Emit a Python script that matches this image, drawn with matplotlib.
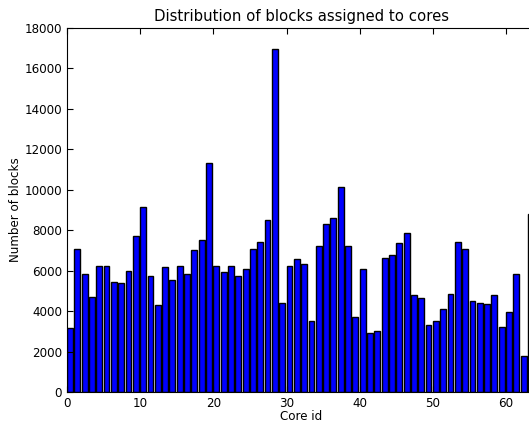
import matplotlib
matplotlib.use("Agg")
import matplotlib.pyplot as plt
import numpy as np

# blocks assigned to each core id
core_ids = np.arange(64)
blocks = [3180, 7056, 5819, 4681, 6247, 6247, 5455, 5390, 5983, 7730,
          9165, 5720, 4318, 6165, 5538, 6247, 5851, 7022, 7516, 11324,
          6247, 5950, 6230, 5736, 6099, 7071, 7401, 8489, 16961, 4401,
          6247, 6593, 6330, 3511, 7236, 8308, 8588, 10154, 7203, 3725,
          6083, 2933, 3033, 6643, 6791, 7385, 7863, 4780, 4648, 3330,
          3494, 4088, 4862, 7418, 7071, 4500, 4401, 4352, 4780, 3231,
          3939, 5835, 1780, 8786]

fig = plt.figure(figsize=(5.29, 4.22), dpi=100)
# axes run a little past the right edge of the figure, as in the original crop
ax = fig.add_axes([0.1267, 0.0711, 0.8854, 0.8625])

ax.bar(core_ids, blocks, width=0.8, align='edge', color='#0000ff',
       edgecolor='black', linewidth=1)

ax.set_xlim(0, 64)
ax.set_ylim(0, 18000)
ax.set_xticks(range(0, 61, 10))
ax.set_yticks(range(0, 18001, 2000))
ax.tick_params(direction='in', top=True, right=True, labelsize=8.6, length=4)

ax.set_title('Distribution of blocks assigned to cores', fontsize=10.7, pad=5)
ax.set_xlabel('Core id', fontsize=8.6, labelpad=0)
ax.set_ylabel('Number of blocks', fontsize=8.6, labelpad=2)

fig.savefig('out.png', dpi=100)
